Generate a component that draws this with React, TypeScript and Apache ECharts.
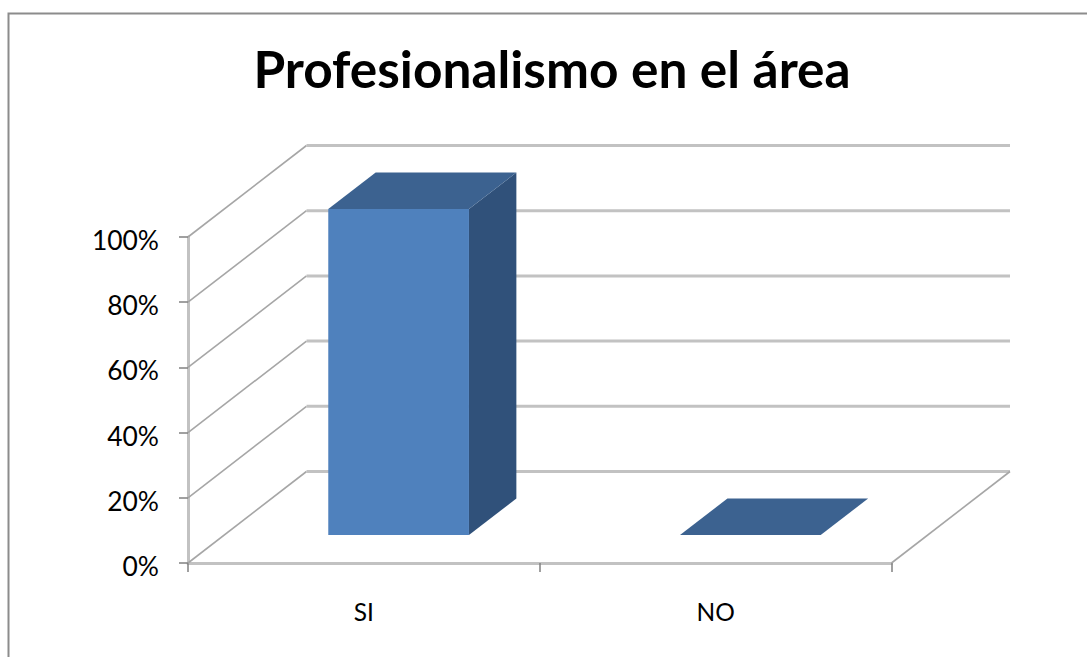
import React, { useEffect, useRef } from "react";
import * as echarts from "echarts";

const titleText = "Profesionalismo en el área";
const categories = ["SI", "NO"];
const barValues = [100, 0];
const axisTicks = [0, 20, 40, 60, 80, 100];

// Oblique projection of the chart's depth axis, in pixels.
const DEPTH_X = 118.5;
const DEPTH_Y = -91.5;
// Part of the floor's depth occupied by each column, and its share of a category band.
const BAR_DEPTH_START = 0.305;
const BAR_DEPTH_END = 0.705;
const BAR_BAND_RATIO = 0.4;
const BAR_NUDGE_X = -1.4;

const FONT = "Lato";
const WALL_LINE = "#c2c2c2";
const SIDE_LINE = "#a6a6a6";
const TICK_LINE = "#808080";
const FACE_FRONT = "#4f81bd";
const FACE_TOP = "#3c6290";
const FACE_SIDE = "#30517a";

export default function App() {
  const ref = useRef<HTMLDivElement>(null);

  useEffect(() => {
    document.body.style.margin = "0";
    document.body.style.overflow = "hidden";
    const chart = echarts.init(ref.current!, undefined, { renderer: "svg" });

    chart.setOption({
      animation: false,
      backgroundColor: "#ffffff",
      title: {
        text: titleText,
        left: 547,
        top: 37,
        textAlign: "center",
        textStyle: { fontFamily: FONT, fontSize: 51.4, fontWeight: "bold", color: "#000000" },
      },
      graphic: [
        {
          type: "polyline",
          silent: true,
          shape: { points: [[8.5, 657], [8.5, 13.5], [1087, 13.5]] },
          style: { stroke: "#8c8c8c", lineWidth: 2, fill: "none" },
        },
      ],
      grid: { left: 188, right: 195.5, top: 237, bottom: 94, containLabel: false },
      xAxis: {
        type: "category",
        data: categories,
        axisLine: { show: true, lineStyle: { color: WALL_LINE, width: 3 } },
        axisTick: { show: true, length: 9, lineStyle: { color: TICK_LINE, width: 1.5 } },
        axisLabel: { fontFamily: FONT, fontSize: 24.5, color: "#000000", margin: 36 },
        splitLine: { show: false },
      },
      yAxis: {
        type: "value",
        min: 0,
        max: 100,
        interval: 20,
        axisLine: { show: true, lineStyle: { color: WALL_LINE, width: 3 } },
        axisTick: { show: true, length: 9, lineStyle: { color: TICK_LINE, width: 1.5 } },
        axisLabel: {
          margin: 29,
          // The rich token's top padding sets the label a little below its tick.
          formatter: (value: number) => `{tick|${value}%}`,
          rich: {
            tick: {
              fontFamily: FONT,
              fontSize: 26.4,
              color: "#000000",
              padding: [6, 0, 0, 0],
            },
          },
        },
        splitLine: { show: false },
      },
      series: [
        {
          // Gridlines folded over the side wall and the back wall, plus the floor's right edge.
          type: "custom",
          silent: true,
          z: 1,
          data: axisTicks.map((v) => [0, v]),
          encode: { x: 0, y: 1 },
          renderItem: (params: any, api: any) => {
            const grid = params.coordSys;
            const value = api.value(1);
            const y = api.coord([0, value])[1];
            const left = grid.x;
            const right = grid.x + grid.width;
            const children: any[] = [
              {
                type: "line",
                shape: { x1: left, y1: y, x2: left + DEPTH_X, y2: y + DEPTH_Y },
                style: { stroke: SIDE_LINE, lineWidth: 1.6 },
              },
              {
                type: "line",
                shape: { x1: left + DEPTH_X, y1: y + DEPTH_Y, x2: right + DEPTH_X, y2: y + DEPTH_Y },
                style: { stroke: WALL_LINE, lineWidth: 3 },
              },
            ];
            if (value === 0) {
              children.push({
                type: "line",
                shape: { x1: right, y1: y, x2: right + DEPTH_X, y2: y + DEPTH_Y },
                style: { stroke: SIDE_LINE, lineWidth: 1.6 },
              });
            }
            return { type: "group", children };
          },
        },
        {
          // Columns: front, side and top faces, set back into the floor's depth.
          type: "custom",
          silent: true,
          z: 2,
          data: barValues.map((v, i) => [i, v]),
          encode: { x: 0, y: 1 },
          renderItem: (_params: any, api: any) => {
            const base = api.coord([api.value(0), 0]);
            const top = api.coord([api.value(0), api.value(1)]);
            const width = (api.size([1, 0])[0] as number) * BAR_BAND_RATIO;
            const sx = DEPTH_X * BAR_DEPTH_START;
            const sy = DEPTH_Y * BAR_DEPTH_START;
            const ex = DEPTH_X * (BAR_DEPTH_END - BAR_DEPTH_START);
            const ey = DEPTH_Y * (BAR_DEPTH_END - BAR_DEPTH_START);
            const x0 = base[0] - width / 2 + sx + BAR_NUDGE_X;
            const x1 = x0 + width;
            const yBottom = base[1] + sy;
            const yTop = top[1] + sy;
            const children: any[] = [];
            if (yBottom - yTop > 0) {
              children.push(
                {
                  type: "polygon",
                  shape: { points: [[x1, yTop], [x1 + ex, yTop + ey], [x1 + ex, yBottom + ey], [x1, yBottom]] },
                  style: { fill: FACE_SIDE },
                },
                {
                  type: "rect",
                  shape: { x: x0, y: yTop, width, height: yBottom - yTop },
                  style: { fill: FACE_FRONT },
                },
              );
            }
            children.push({
              type: "polygon",
              shape: { points: [[x0, yTop], [x0 + ex, yTop + ey], [x1 + ex, yTop + ey], [x1, yTop]] },
              style: { fill: FACE_TOP },
            });
            return { type: "group", children };
          },
        },
      ],
    });

    return () => chart.dispose();
  }, []);

  return <div ref={ref} style={{ width: 1087, height: 657 }} />;
}
